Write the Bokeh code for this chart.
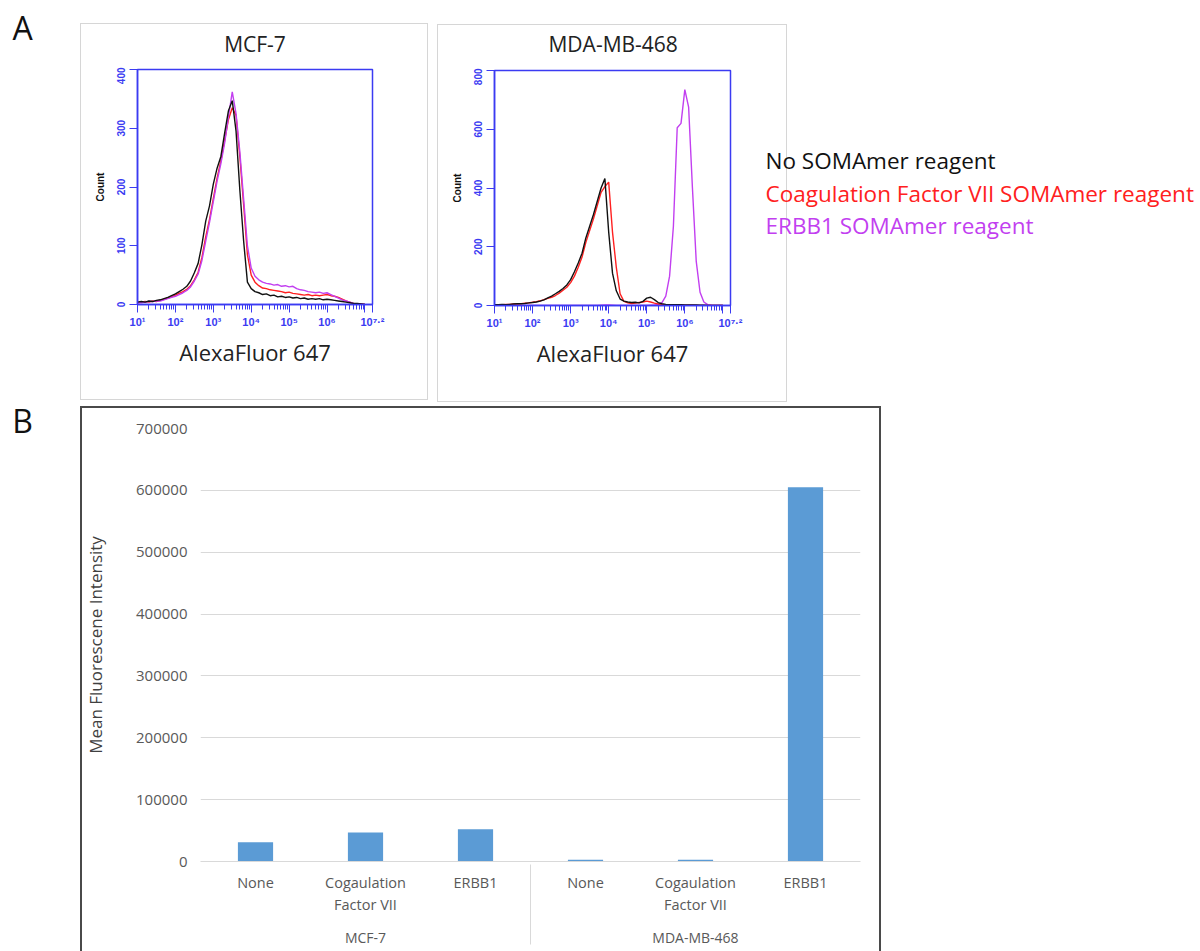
from bokeh.plotting import figure
from bokeh.models import (Range1d, FixedTicker, Label, FactorRange,
                          NumeralTickFormatter, Spacer, ColumnDataSource)
from bokeh.layouts import row, column
from bokeh.embed import file_html
from bokeh.resources import INLINE

# ---------------- data ----------------
# histogram bins: log10 of AlexaFluor 647 intensity
log_x = [1.0, 1.1, 1.2, 1.3, 1.4, 1.5, 1.6, 1.7, 1.8, 1.9,
         2.0, 2.1, 2.2, 2.3, 2.4, 2.5, 2.6, 2.7, 2.8, 2.9,
         3.0, 3.1, 3.2, 3.3, 3.4, 3.5, 3.6, 3.7, 3.8, 3.9,
         4.0, 4.1, 4.2, 4.3, 4.4, 4.5, 4.6, 4.7, 4.8, 4.9,
         5.0, 5.1, 5.2, 5.3, 5.4, 5.5, 5.6, 5.7, 5.8, 5.9,
         6.0, 6.1, 6.2, 6.3, 6.4, 6.5, 6.6, 6.7, 6.8, 6.9, 7.0]

mcf7_none = [4, 5, 4, 6, 5, 7, 8, 10, 12, 15,
             18, 22, 26, 31, 40, 54, 70, 102, 142, 168,
             205, 232, 252, 292, 330, 347, 295, 195, 108, 38,
             27, 22, 20, 17, 18, 15, 16, 13, 14, 12,
             13, 11, 12, 10, 11, 9, 10, 9, 10, 8,
             9, 8, 7, 6, 5, 4, 3, 2, 2, 1, 0]
mcf7_f7 = [3, 4, 5, 4, 6, 5, 7, 9, 11, 13,
           16, 19, 22, 26, 32, 42, 55, 80, 115, 145,
           180, 215, 245, 280, 315, 335, 322, 252, 170, 85,
           50, 38, 32, 28, 27, 25, 24, 23, 22, 20,
           21, 19, 18, 17, 16, 17, 15, 16, 15, 16,
           17, 15, 14, 12, 9, 6, 4, 2, 1, 1, 0]
mcf7_erbb1 = [3, 3, 4, 5, 5, 6, 6, 8, 10, 12,
              14, 17, 20, 24, 30, 40, 52, 75, 108, 140,
              175, 210, 240, 275, 320, 362, 325, 260, 180, 100,
              62, 48, 42, 38, 36, 35, 33, 34, 31, 32,
              30, 31, 27, 25, 24, 22, 21, 20, 21, 19,
              20, 17, 14, 11, 8, 6, 4, 2, 1, 1, 0]

mda_none = [3, 3, 4, 3, 4, 5, 6, 6, 7, 9,
            10, 12, 15, 19, 26, 32, 40, 48, 58, 70,
            88, 115, 145, 178, 230, 270, 310, 355, 400, 432,
            250, 110, 50, 22, 15, 12, 10, 11, 9, 14,
            25, 28, 20, 10, 6, 4, 3, 3, 3, 3,
            2, 2, 2, 2, 1, 1, 0, 0, 0, 0, 0]
mda_f7 = [2, 3, 3, 4, 4, 5, 5, 6, 8, 9,
          11, 13, 16, 20, 24, 28, 34, 42, 52, 62,
          78, 100, 130, 165, 215, 255, 295, 340, 385, 405,
          420, 250, 130, 40, 14, 9, 7, 8, 10, 12,
          15, 12, 8, 5, 3, 3, 2, 2, 2, 2,
          1, 1, 1, 0, 0, 0, 0, 0, 0, 0, 0]
mda_erbb1 = [0, 0, 0, 0, 0, 0, 0, 0, 0, 0,
             0, 0, 0, 0, 0, 0, 0, 0, 0, 0,
             0, 0, 0, 0, 0, 0, 0, 0, 1, 2,
             2, 1, 0, 0, 0, 0, 0, 0, 0, 0,
             0, 1, 2, 4, 10, 32, 100, 270, 605, 620,
             735, 675, 400, 150, 45, 12, 3, 1, 0, 0, 0]

hist_x_ticks = [1e1, 1e2, 1e3, 1e4, 1e5, 1e6, 1e7, 10 ** 7.2]
hist_x_labels = ["10¹", "10²", "10³", "10⁴", "10⁵", "10⁶", "", "10⁷·²"]
mcf7_y_ticks = [0, 100, 200, 300, 400]
mda_y_ticks = [0, 200, 400, 600, 800]

series_names = ["No SOMAmer reagent",
                "Coagulation Factor VII SOMAmer reagent",
                "ERBB1 SOMAmer reagent"]
series_colors = ["#111111", "#ff2020", "#c23ff0"]

bar_groups = ["MCF-7", "MCF-7", "MCF-7", "MDA-MB-468", "MDA-MB-468", "MDA-MB-468"]
bar_treatments = ["None", "Cogaulation\nFactor VII", "ERBB1",
                  "None", "Cogaulation\nFactor VII", "ERBB1"]
bar_values = [31000, 47000, 52000, 3000, 3000, 605000]
bar_y_ticks = [0, 100000, 200000, 300000, 400000, 500000, 600000, 700000]

# ---------------- styling ----------------
AX = "#3b3bf2"
FONT = "Open Sans"
PANEL_BOX = {"box-shadow": "inset 0 0 0 1px #d6d6d6"}
TITLE_H = 44


def blank_fig(w, h, **kw):
    p = figure(width=w, height=h, x_range=Range1d(0, w), y_range=Range1d(0, h),
               title=None, x_axis_location=None, y_axis_location=None,
               toolbar_location=None, output_backend="svg",
               min_border=0, outline_line_color=None,
               border_fill_color=None, background_fill_color=None, **kw)
    p.grid.visible = False
    return p


def make_hist(title, title_x, title_y, series, ymax, yticks, w, h, mbl, mbr, mbb):
    tf = blank_fig(w, TITLE_H)
    tf.add_layout(Label(x=title_x, y=TITLE_H - title_y, text=title,
                        text_font=FONT, text_font_size="21px", text_color="#222222",
                        text_align="center", text_baseline="middle"))
    p = figure(width=w, height=h - TITLE_H, x_axis_type="log", title=None,
               x_range=Range1d(10, 10 ** 7.2), y_range=Range1d(0, ymax),
               toolbar_location=None, output_backend="svg",
               min_border_left=mbl, min_border_right=mbr,
               min_border_top=2, min_border_bottom=mbb,
               border_fill_color=None, background_fill_color="white")
    xs = [10 ** v for v in log_x]
    for ys, c in series:
        p.line(xs, ys, line_color=c, line_width=1.4)
    p.grid.visible = False
    p.outline_line_color = AX
    p.outline_line_width = 1.5

    minor = [k * 10 ** d for d in range(1, 7) for k in range(2, 10)]
    p.xaxis.ticker = FixedTicker(ticks=hist_x_ticks, minor_ticks=minor)
    p.xaxis.major_label_overrides = dict(zip(hist_x_ticks, hist_x_labels))
    p.yaxis.ticker = FixedTicker(ticks=yticks, minor_ticks=[])
    for ax in (p.xaxis[0], p.yaxis[0]):
        ax.axis_line_color = AX
        ax.axis_line_width = 1.5
        ax.major_tick_line_color = AX
        ax.minor_tick_line_color = AX
        ax.major_tick_in = 0
        ax.minor_tick_in = 0
        ax.major_label_text_color = AX
        ax.major_label_text_font = "Arial"
        ax.major_label_text_font_style = "bold"
    p.xaxis.major_tick_out = 8
    p.xaxis.minor_tick_out = 5
    p.xaxis.major_label_text_font_size = "11px"
    p.xaxis.major_label_standoff = 3
    p.yaxis.major_tick_out = 8
    p.yaxis.major_label_text_font_size = "10px"
    p.yaxis.major_label_orientation = "vertical"
    p.yaxis.major_label_standoff = 5

    p.xaxis.axis_label = "AlexaFluor 647"
    p.xaxis.axis_label_text_font = FONT
    p.xaxis.axis_label_text_font_size = "22px"
    p.xaxis.axis_label_text_font_style = "normal"
    p.xaxis.axis_label_text_color = "#222222"
    p.xaxis.axis_label_standoff = 6

    p.yaxis.axis_label = "Count"
    p.yaxis.axis_label_text_font = "Arial"
    p.yaxis.axis_label_text_font_size = "10px"
    p.yaxis.axis_label_text_font_style = "bold"
    p.yaxis.axis_label_text_color = "#111111"
    p.yaxis.axis_label_standoff = 8
    return column(tf, p, styles=PANEL_BOX)


# ---------------- panel letters ----------------
figAB = blank_fig(80, 951)
for letter, yc in (("A", 27), ("B", 420)):
    figAB.add_layout(Label(x=22, y=951 - yc, text=letter,
                           text_font=FONT, text_font_size="32px", text_color="#111111",
                           text_align="center", text_baseline="middle"))

# ---------------- panel A ----------------
h1 = make_hist("MCF-7", 174, 20,
               [(mcf7_f7, series_colors[1]), (mcf7_erbb1, series_colors[2]),
                (mcf7_none, series_colors[0])],
               400, mcf7_y_ticks, 348, 377, 57, 56, 96)
h2 = make_hist("MDA-MB-468", 176, 19,
               [(mda_erbb1, series_colors[2]), (mda_f7, series_colors[1]),
                (mda_none, series_colors[0])],
               800, mda_y_ticks, 350, 378, 57, 57, 97)

figLeg = blank_fig(433, 402, styles={"margin-left": "-22px"})
for i, (name, col) in enumerate(zip(series_names, series_colors)):
    figLeg.add_layout(Label(x=0, y=402 - 160 - 32.5 * i,
                            text=name, text_font=FONT, text_font_size="22.5px",
                            text_color=col, text_align="left", text_baseline="middle"))

top = row(column(Spacer(width=348, height=23), h1), Spacer(width=9, height=10),
          column(Spacer(width=350, height=24), h2), figLeg)

# ---------------- panel B ----------------
factors = list(zip(bar_groups, bar_treatments))
src = ColumnDataSource(dict(x=factors, v=bar_values))
pb = figure(width=801, height=545,
            x_range=FactorRange(*factors, group_padding=0, factor_padding=0,
                                range_padding=0),
            y_range=Range1d(0, 700000),
            toolbar_location=None, output_backend="svg",
            min_border_left=120, min_border_right=21,
            min_border_top=22, min_border_bottom=90,
            border_fill_color=None, background_fill_color="white",
            styles={"box-shadow": "inset 2px 0 0 #4a4a4a, inset -2px 0 0 #4a4a4a, inset 0 2px 0 #4a4a4a"})
pb.vbar(x="x", top="v", width=0.32, source=src, fill_color="#5b9bd5", line_color=None)
pb.outline_line_color = None
pb.xgrid.visible = False
pb.ygrid.grid_line_color = "#d9d9d9"
pb.yaxis.ticker = FixedTicker(ticks=bar_y_ticks, minor_ticks=[])
pb.yaxis.formatter = NumeralTickFormatter(format="0")
pb.yaxis.axis_line_color = None
pb.yaxis.major_tick_line_color = None
pb.yaxis.minor_tick_line_color = None
pb.yaxis.major_tick_out = 0
pb.yaxis.major_label_standoff = 13
pb.yaxis.axis_label = "Mean Fluorescene Intensity"
pb.yaxis.axis_label_text_font = FONT
pb.yaxis.axis_label_text_font_size = "17px"
pb.yaxis.axis_label_text_font_style = "normal"
pb.yaxis.axis_label_text_color = "#404040"
pb.yaxis.axis_label_standoff = 26
pb.yaxis.major_label_text_font_size = "15px"
for ax in (pb.xaxis[0], pb.yaxis[0]):
    ax.major_label_text_font = FONT
    ax.major_label_text_color = "#595959"
pb.xaxis.major_label_text_font_size = "14.5px"
pb.xaxis.axis_line_color = "#d9d9d9"
pb.xaxis.major_tick_line_color = None
pb.xaxis.major_tick_out = 0
pb.xaxis.major_label_standoff = 11
pb.xaxis.group_text_font = FONT
pb.xaxis.group_text_font_size = "14px"
pb.xaxis.group_text_font_style = "normal"
pb.xaxis.group_text_color = "#595959"
pb.xaxis.separator_line_color = "#d9d9d9"
pb.xaxis.separator_line_width = 1

right = column(top, Spacer(width=10, height=4), pb)
layout = row(figAB, right)

open("out.html", "w").write(file_html(layout, INLINE))
